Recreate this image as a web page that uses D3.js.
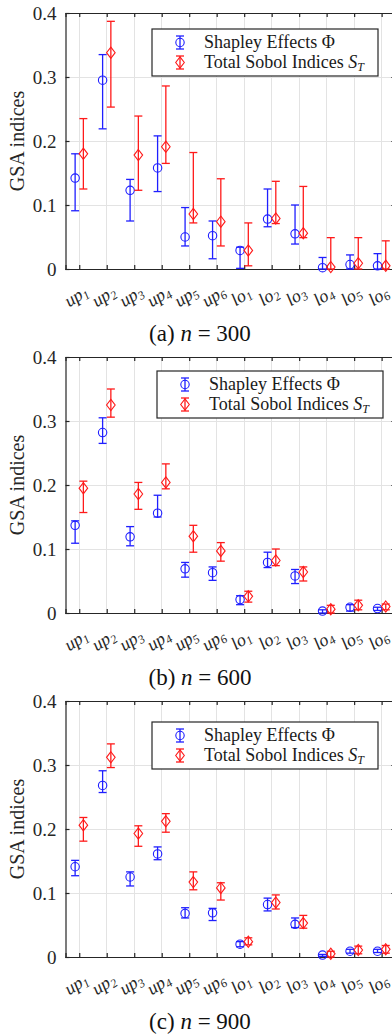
<!DOCTYPE html>
<html>
<head>
<meta charset="utf-8">
<title>GSA indices</title>
<style>
    body {
        margin: 0;
        background: #fff;
    }

    svg {
        display: block;
        font-family: "Liberation Serif", "LiberationSerif", "Nimbus Roman", "Times", "DejaVu Serif", serif;
    }

    .grid line {
        stroke: #e3e3e3;
        stroke-width: 1;
        shape-rendering: crispEdges;
    }

    .axis path, .axis line {
        stroke: #262626;
        stroke-width: 1.2;
    }

    .axis text {
        font-family: inherit;
        font-size: 19px;
        fill: #262626;
    }

    .xlab {
        font-size: 18px;
        font-style: italic;
        fill: #262626;
    }

    .legend text {
        font-size: 18px;
        fill: #1a1a1a;
    }
</style>
<script src="https://d3js.org/d3.v7.min.js"></script>
</head>
<body>
<script>
    // categories on the x axis
    var categories = ["up1", "up2", "up3", "up4", "up5", "up6",
                      "lo1", "lo2", "lo3", "lo4", "lo5", "lo6"];

    var yTicks = [0, 0.1, 0.2, 0.3, 0.4];

    // each entry: [estimate, lower, upper]
    var shapley300 = [[0.142, 0.091, 0.180], [0.295, 0.219, 0.335], [0.123, 0.075, 0.140],
                      [0.158, 0.121, 0.208], [0.050, 0.036, 0.096], [0.052, 0.016, 0.075],
                      [0.029, 0.001, 0.034], [0.078, 0.066, 0.125], [0.055, 0.039, 0.100],
                      [0.002, 0.000, 0.018], [0.007, 0.000, 0.022], [0.005, 0.000, 0.024]];
    var sobol300   = [[0.180, 0.125, 0.235], [0.338, 0.253, 0.387], [0.178, 0.123, 0.239],
                      [0.191, 0.165, 0.286], [0.086, 0.072, 0.182], [0.074, 0.036, 0.141],
                      [0.029, 0.005, 0.072], [0.079, 0.071, 0.137], [0.056, 0.049, 0.129],
                      [0.003, 0.000, 0.049], [0.009, 0.000, 0.049], [0.005, 0.000, 0.044]];

    var shapley600 = [[0.137, 0.109, 0.144], [0.282, 0.265, 0.305], [0.119, 0.105, 0.135],
                      [0.156, 0.150, 0.184], [0.069, 0.056, 0.079], [0.063, 0.051, 0.072],
                      [0.021, 0.013, 0.027], [0.079, 0.071, 0.095], [0.058, 0.046, 0.068],
                      [0.003, 0.000, 0.005], [0.009, 0.003, 0.013], [0.007, 0.004, 0.009]];
    var sobol600   = [[0.195, 0.157, 0.206], [0.325, 0.306, 0.350], [0.186, 0.162, 0.204],
                      [0.204, 0.194, 0.233], [0.120, 0.095, 0.137], [0.097, 0.081, 0.110],
                      [0.026, 0.017, 0.034], [0.082, 0.074, 0.100], [0.064, 0.050, 0.072],
                      [0.006, 0.000, 0.012], [0.012, 0.005, 0.020], [0.010, 0.005, 0.014]];

    var shapley900 = [[0.141, 0.127, 0.151], [0.268, 0.257, 0.291], [0.125, 0.111, 0.133],
                      [0.161, 0.152, 0.172], [0.068, 0.061, 0.077], [0.069, 0.057, 0.076],
                      [0.020, 0.016, 0.024], [0.082, 0.072, 0.092], [0.051, 0.046, 0.061],
                      [0.003, 0.001, 0.004], [0.009, 0.006, 0.012], [0.009, 0.007, 0.012]];
    var sobol900   = [[0.206, 0.181, 0.218], [0.312, 0.296, 0.333], [0.193, 0.173, 0.205],
                      [0.212, 0.195, 0.224], [0.117, 0.105, 0.133], [0.108, 0.089, 0.116],
                      [0.024, 0.019, 0.030], [0.085, 0.075, 0.097], [0.053, 0.045, 0.065],
                      [0.005, 0.000, 0.009], [0.011, 0.005, 0.017], [0.012, 0.006, 0.018]];

    var panels = [
        {tag: "(a)", n: 300, shapley: shapley300, sobol: sobol300, top: 13,  legX: 152, legY: 16},
        {tag: "(b)", n: 600, shapley: shapley600, sobol: sobol600, top: 357, legX: 157, legY: 14},
        {tag: "(c)", n: 900, shapley: shapley900, sobol: sobol900, top: 701, legX: 152, legY: 21}
    ];

    var width = 392, height = 1036,
        left = 65.5, step = 27.49, plotH = 256,
        offset = 0.15, capW = 4;

    var blue = "#1f1fff", red = "#ff1a1a";

    var svg = d3.select("body").append("svg")
            .attr("width", width)
            .attr("height", height);

    var x = d3.scaleLinear()
            .domain([0.5, categories.length + 0.5])
            .range([left, left + categories.length * step]);

    function diamondPath(cx, cy) {
        var w = 4.3, h = 5.6;
        return "M" + cx + "," + (cy - h) + "L" + (cx + w) + "," + cy +
               "L" + cx + "," + (cy + h) + "L" + (cx - w) + "," + cy + "Z";
    }

    function drawErrorBar(g, cx, y0, y1, color) {
        g.append("line").attr("x1", cx).attr("x2", cx).attr("y1", y0).attr("y2", y1)
                .attr("stroke", color).attr("stroke-width", 1.3);
        [y0, y1].forEach(function (yy) {
            g.append("line").attr("x1", cx - capW).attr("x2", cx + capW)
                    .attr("y1", yy).attr("y2", yy)
                    .attr("stroke", color).attr("stroke-width", 1.3);
        });
    }

    function drawMarker(g, kind, cx, cy, color) {
        if (kind === "circle")
            g.append("circle").attr("cx", cx).attr("cy", cy).attr("r", 4.2)
                    .attr("fill", "none").attr("stroke", color).attr("stroke-width", 1.1);
        else
            g.append("path").attr("d", diamondPath(cx, cy))
                    .attr("fill", "none").attr("stroke", color).attr("stroke-width", 1.1);
    }

    panels.forEach(function (p) {
        var y = d3.scaleLinear().domain([0, 0.4]).range([p.top + plotH, p.top]);
        var right = x.range()[1];
        var g = svg.append("g");

        // grid
        var grid = g.append("g").attr("class", "grid");
        grid.selectAll("line.gx").data(d3.range(1, categories.length + 1)).enter()
                .append("line").attr("class", "gx")
                .attr("x1", x).attr("x2", x)
                .attr("y1", y(0)).attr("y2", y(0.4));
        grid.selectAll("line.gy").data(yTicks).enter()
                .append("line").attr("class", "gy")
                .attr("x1", left).attr("x2", right)
                .attr("y1", y).attr("y2", y);

        // axes, ticks pointing inward
        var yAxis = g.append("g").attr("class", "axis")
                .attr("transform", "translate(" + left + ",0)")
                .call(d3.axisLeft(y).tickValues(yTicks).tickSize(-4).tickPadding(9)
                        .tickFormat(function (d) { return d === 0 ? "0" : d3.format(".1f")(d); }));
        yAxis.attr("font-family", null).attr("font-size", null);
        g.append("g").attr("class", "axis")
                .attr("transform", "translate(" + right + ",0)")
                .call(d3.axisRight(y).tickValues(yTicks).tickSize(-4).tickFormat(""));
        g.append("g").attr("class", "axis")
                .attr("transform", "translate(0," + y(0) + ")")
                .call(d3.axisBottom(x).tickValues(d3.range(1, categories.length + 1))
                        .tickSize(-4).tickFormat(""));
        g.append("g").attr("class", "axis")
                .attr("transform", "translate(0," + y(0.4) + ")")
                .call(d3.axisTop(x).tickValues(d3.range(1, categories.length + 1))
                        .tickSize(-4).tickFormat(""));
        g.selectAll(".axis path").attr("stroke-width", 1.4);

        // x labels with subscripts
        categories.forEach(function (c, i) {
            var m = c.match(/^([a-z]+)(\d+)$/);
            var t = g.append("text").attr("class", "xlab")
                    .attr("text-anchor", "middle")
                    .attr("transform", "translate(" + x(i + 1) + "," + (y(0) + 32) + ") rotate(-33)");
            t.append("tspan").text(m[1]);
            t.append("tspan").attr("font-size", "12px").attr("dy", 3).text(m[2]);
        });

        // y label
        g.append("text")
                .attr("transform", "translate(24," + (p.top + plotH / 2) + ") rotate(-90)")
                .attr("text-anchor", "middle")
                .attr("font-size", "20px")
                .attr("fill", "#262626")
                .text("GSA indices");

        // error bars and markers
        var body = g.append("g");
        p.shapley.forEach(function (d, i) {
            var cx = x(i + 1 - offset);
            drawErrorBar(body, cx, y(d[1]), y(d[2]), blue);
            drawMarker(body, "circle", cx, y(d[0]), blue);
        });
        p.sobol.forEach(function (d, i) {
            var cx = x(i + 1 + offset);
            drawErrorBar(body, cx, y(d[1]), y(d[2]), red);
            drawMarker(body, "diamond", cx, y(d[0]), red);
        });

        // legend
        var lg = g.append("g").attr("class", "legend")
                .attr("transform", "translate(" + p.legX + "," + (p.top + p.legY) + ")");
        lg.append("rect").attr("width", 226).attr("height", 47)
                .attr("fill", "#fff").attr("stroke", "#262626").attr("stroke-width", 1.2);
        drawErrorBar(lg, 28, 7, 20, blue);
        drawMarker(lg, "circle", 28, 13.5, blue);
        drawErrorBar(lg, 28, 27, 40, red);
        drawMarker(lg, "diamond", 28, 33.5, red);
        lg.append("text").attr("x", 52).attr("y", 19).text("Shapley Effects Φ");
        var t2 = lg.append("text").attr("x", 52).attr("y", 39);
        t2.append("tspan").text("Total Sobol Indices ");
        t2.append("tspan").attr("font-style", "italic").text("S");
        t2.append("tspan").attr("font-style", "italic").attr("font-size", "12px").attr("dy", 3).text("T");

        // caption
        var cap = g.append("text")
                .attr("x", 200).attr("y", y(0) + 72)
                .attr("text-anchor", "middle")
                .attr("font-size", "23px")
                .attr("fill", "#111");
        cap.append("tspan").text(p.tag + " ");
        cap.append("tspan").attr("font-style", "italic").text("n");
        cap.append("tspan").text(" = " + p.n);
    });
</script>
</body>
</html>
